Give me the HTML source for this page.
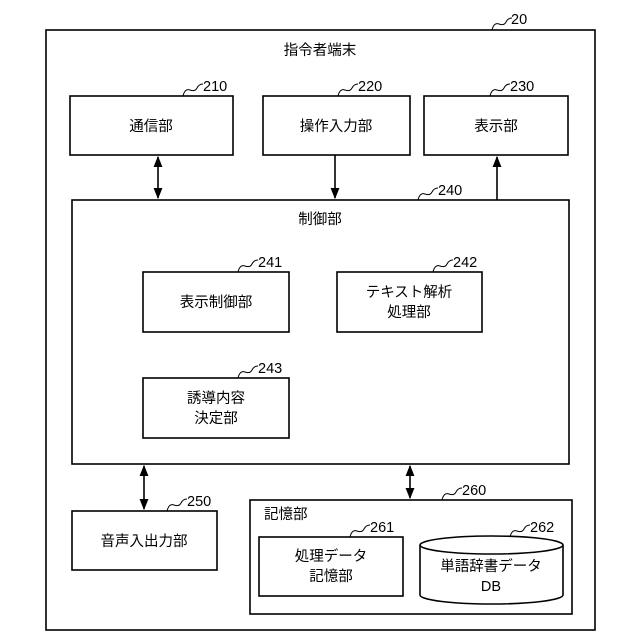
<!DOCTYPE html>
<html><head><meta charset="utf-8"><style>
html,body{margin:0;padding:0;background:#fff}
svg{display:block}
text{font-family:"Liberation Sans","Noto Sans CJK JP",sans-serif;font-size:14.5px;fill:#000}
.n{font-size:16px}
</style></head><body>
<svg width="640" height="640" viewBox="0 0 640 640" xmlns="http://www.w3.org/2000/svg">
<defs>
<marker id="a" viewBox="0 0 10 10" refX="9" refY="5" markerWidth="7" markerHeight="7" orient="auto-start-reverse"><path d="M0,1 L10,5 L0,9 z" fill="#000"/></marker>
</defs>
<g fill="none" stroke="#000" stroke-width="1.6">
<rect x="46" y="30" width="549" height="600"/>
<rect x="70" y="96" width="163" height="59"/>
<rect x="263" y="96" width="147" height="59"/>
<rect x="424" y="96" width="144" height="59"/>
<rect x="72" y="200" width="497" height="264"/>
<rect x="143" y="272" width="146" height="60"/>
<rect x="337" y="272" width="145" height="60"/>
<rect x="143" y="378" width="146" height="60"/>
<rect x="72" y="511" width="145" height="59"/>
<rect x="250" y="500" width="322" height="114"/>
<rect x="259" y="537" width="144" height="59"/>
<path d="M420,545 A71.5,9 0 0 1 563,545 L563,595 A71.5,9 0 0 1 420,595 Z"/>
<path d="M420,545 A71.5,9 0 0 0 563,545"/>
<line x1="158" y1="157" x2="158" y2="198" marker-start="url(#a)" marker-end="url(#a)"/>
<line x1="335" y1="155" x2="335" y2="198" marker-end="url(#a)"/>
<line x1="497" y1="200" x2="497" y2="157" marker-end="url(#a)"/>
<line x1="144" y1="466" x2="144" y2="509" marker-start="url(#a)" marker-end="url(#a)"/>
<line x1="410" y1="466" x2="410" y2="498" marker-start="url(#a)" marker-end="url(#a)"/>
</g>
<g fill="none" stroke="#000" stroke-width="1">
<path d="M492,30 q2,-8 7,-6 q5,2 7,-2 q2,-4 6,-4"/>
<path d="M183,96 q2,-8 7,-6 q5,2 7,-2 q2,-4 6,-4"/>
<path d="M338,96 q2,-8 7,-6 q5,2 7,-2 q2,-4 6,-4"/>
<path d="M490,96 q2,-8 7,-6 q5,2 7,-2 q2,-4 6,-4"/>
<path d="M418,200 q2,-8 7,-6 q5,2 7,-2 q2,-4 6,-4"/>
<path d="M238,272 q2,-8 7,-6 q5,2 7,-2 q2,-4 6,-4"/>
<path d="M433,272 q2,-8 7,-6 q5,2 7,-2 q2,-4 6,-4"/>
<path d="M238,378 q2,-8 7,-6 q5,2 7,-2 q2,-4 6,-4"/>
<path d="M167,511 q2,-8 7,-6 q5,2 7,-2 q2,-4 6,-4"/>
<path d="M442,500 q2,-8 7,-6 q5,2 7,-2 q2,-4 6,-4"/>
<path d="M350,537 q2,-8 7,-6 q5,2 7,-2 q2,-4 6,-4"/>
<path d="M510,537 q2,-8 7,-6 q5,2 7,-2 q2,-4 6,-4"/>
</g>
<g class="n">
<text x="511" y="24">20</text>
<text x="203" y="91">210</text>
<text x="358" y="91">220</text>
<text x="510" y="91">230</text>
<text x="438" y="195">240</text>
<text x="258" y="267">241</text>
<text x="453" y="267">242</text>
<text x="258" y="373">243</text>
<text x="187" y="506">250</text>
<text x="462" y="495">260</text>
<text x="370" y="532">261</text>
<text x="530" y="532">262</text>
</g>
<g text-anchor="middle">
<text x="320" y="55">指令者端末</text>
<text x="151" y="131">通信部</text>
<text x="336" y="131">操作入力部</text>
<text x="496" y="131">表示部</text>
<text x="320" y="224">制御部</text>
<text x="216" y="307">表示制御部</text>
<text x="409" y="297">テキスト解析</text>
<text x="409" y="317">処理部</text>
<text x="216" y="403">誘導内容</text>
<text x="216" y="423">決定部</text>
<text x="144" y="546">音声入出力部</text>
<text x="331" y="561">処理データ</text>
<text x="331" y="581">記憶部</text>
<text x="491" y="571">単語辞書データ</text>
<text x="491" y="591">DB</text>
</g>
<text x="264" y="519">記憶部</text>
</svg>
</body></html>
